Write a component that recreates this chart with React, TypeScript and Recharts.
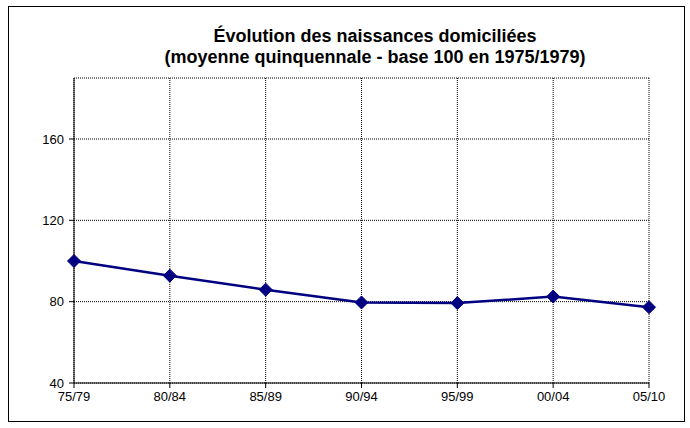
import { LineChart, Line, XAxis, YAxis, CartesianGrid } from 'recharts';

const periods = ['75/79', '80/84', '85/89', '90/94', '95/99', '00/04', '05/10'];
const births = [100, 92.8, 85.9, 79.6, 79.3, 82.5, 77.3];
const yTicks = [40, 80, 120, 160];

const data = periods.map((p, i) => ({ period: p, value: births[i] }));

const Diamond = (props: any) => {
  const { cx, cy } = props;
  if (cx == null || cy == null) return null;
  const r = 6.5;
  return (
    <polygon
      points={`${cx},${cy - r} ${cx + r},${cy} ${cx},${cy + r} ${cx - r},${cy}`}
      fill="#000080"
      stroke="#000080"
    />
  );
};

export default function App() {
  const font = 'Liberation Sans, Arial, sans-serif';
  return (
    <div style={{ position: 'absolute', left: 0, top: 0, width: 690, height: 428, background: '#fff', fontFamily: font }}>
      <div style={{ position: 'absolute', left: 8, top: 6, width: 675, height: 414, border: '1px solid #000' }} />
      <div style={{ position: 'absolute', left: 0, top: 26, width: 750, textAlign: 'center', fontWeight: 'bold', fontSize: 18, lineHeight: '21px', color: '#000' }}>
        Évolution des naissances domiciliées
        <br />
        (moyenne quinquennale - base 100 en 1975/1979)
      </div>
      <LineChart width={690} height={428} data={data} margin={{ top: 78, right: 41, bottom: 13, left: 28 }} style={{ position: 'absolute', left: 0, top: 0 }}>
        <CartesianGrid stroke="#000" strokeDasharray="1 1" strokeWidth={1} />
        <XAxis
          dataKey="period"
          height={32}
          stroke="#000"
          tickSize={5}
          tick={{ fill: '#000', fontSize: 13, fontFamily: font }}
          tickMargin={4}
        />
        {/* top edge of the plot frame */}
        <XAxis xAxisId="top" dataKey="period" orientation="top" height={0} stroke="#000" tick={false} tickLine={false} />
        <YAxis
          domain={[40, 190]}
          ticks={yTicks}
          width={46}
          stroke="#000"
          tickSize={5}
          tickMargin={5}
          allowDataOverflow
          tick={{ fill: '#000', fontSize: 13, fontFamily: font }}
        />
        {/* right edge of the plot frame */}
        <YAxis yAxisId="right" orientation="right" width={0} domain={[40, 190]} stroke="#000" tick={false} tickLine={false} />
        <Line
          dataKey="value"
          stroke="#000080"
          strokeWidth={2.5}
          dot={<Diamond />}
          activeDot={false}
          isAnimationActive={false}
        />
      </LineChart>
    </div>
  );
}
